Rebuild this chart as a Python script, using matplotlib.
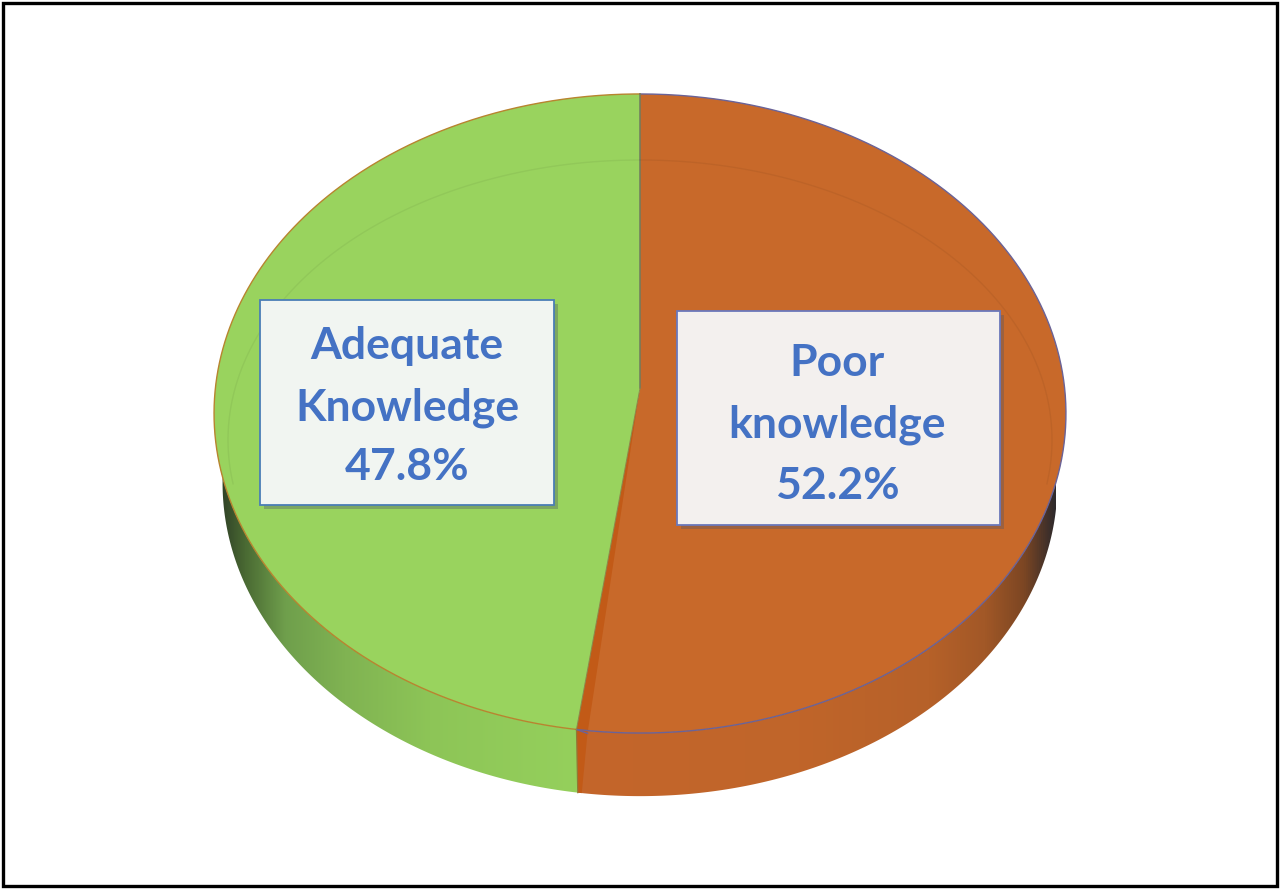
import numpy as np
import matplotlib
matplotlib.use('Agg')
import matplotlib.pyplot as plt
from matplotlib.colors import LinearSegmentedColormap
from matplotlib.patches import Polygon, Rectangle

# values (clockwise from the top)
categories = ['Poor\nknowledge', 'Adequate\nKnowledge']
shares = [52.2, 47.8]

top_colors = ['#c8692a', '#99d35e']
edge_colors = ['#6a6398', '#b8842f']

plt.rcParams['font.family'] = ['Lato', 'DejaVu Sans']

fig = plt.figure(figsize=(12.8, 8.91), dpi=100)
ax = fig.add_axes([0, 0, 1, 1])


# tilted disc: unit circle through a perspective projection
def disc(theta, dy=0.0, scale=1.0):
    u = np.sin(theta)
    v = -np.cos(theta)
    w = 1 - 0.0798 * v
    return 640 + scale * 424.6 * u / w, 388 + dy + scale * 317.5 * v / w


fractions = np.cumsum([0] + shares) / sum(shares)
angles = 2 * np.pi * fractions
DEPTH = 70
SCALE = 0.98

# side wall, shaded along x
wall_maps = [
    ([(577, '#c4662b'), (800, '#c0652a'), (930, '#b66129'), (985, '#a25827'),
      (1025, '#7c4623'), (1056, '#2f2a2c')]),
    ([(220, '#2f4026'), (245, '#4a6a33'), (285, '#6f9f4c'), (345, '#80b352'),
      (430, '#8dc557'), (577, '#95d05c')]),
]
for i in range(2):
    t = np.linspace(angles[i], angles[i + 1], 400)
    t = t[np.cos(t) < 0.5]
    x1, y1 = disc(t)
    x2, y2 = disc(t, DEPTH, SCALE)
    pts = np.column_stack([np.r_[x1, x2[::-1]], np.r_[y1, y2[::-1]]])
    poly = Polygon(pts, closed=True, fc='none', ec='none')
    ax.add_patch(poly)
    stops = wall_maps[i]
    lo, hi = stops[0][0], stops[-1][0]
    cmap = LinearSegmentedColormap.from_list(
        'wall', [((s[0] - lo) / (hi - lo), s[1]) for s in stops])
    grad = np.linspace(0, 1, 512).reshape(1, -1)
    im = ax.imshow(grad, cmap=cmap, extent=(lo, hi, 830, 400), aspect='auto', zorder=1)
    im.set_clip_path(poly)

# top face
apex = (640, 388)
for i in range(2):
    t = np.linspace(angles[i], angles[i + 1], 400)
    x, y = disc(t)
    ax.fill(np.r_[apex[0], x], np.r_[apex[1], y], color=top_colors[i], lw=0, zorder=2)
    ax.plot(x, y, color=edge_colors[i], lw=1.0, zorder=3)

# darker cut face beside the split
sx, sy = disc(np.array([angles[1]]))
sx, sy = sx[0], sy[0]
bx0, by0 = disc(np.array([angles[1]]), DEPTH, SCALE)
bx0, by0 = bx0[0], by0[0]
ax.fill([apex[0], sx, sx + 11], [apex[1], sy, sy + 4], color='#c25a17', lw=0, zorder=2.5)
ax.fill([sx, sx + 11, bx0 + 4, bx0], [sy, sy + 4, by0 + 0.5, by0], color='#c25a17', lw=0, zorder=2.5)
ax.plot([sx, bx0], [sy, by0], color='#8f7a35', lw=0.9, zorder=3)
ax.plot([sx, sx + 11], [sy, sy + 4], color=edge_colors[0], lw=1.0, zorder=3)
ax.plot([apex[0], apex[0]], [94, apex[1]], color='#707a5e', lw=1.1, zorder=3)
ax.plot([apex[0], sx], [apex[1], sy], color='#8a8a4a', lw=0.7, zorder=3)

# faint ring seen through the top face
t = np.linspace(-0.55 * np.pi, 0.55 * np.pi, 300)
ax.plot(640 + 412 * np.sin(t), 440 - 280 * np.cos(t), color='k', alpha=0.05, lw=1, zorder=3)

# label boxes
boxes = [(677, 311, 323, 214, '#f3f0ee', '#6a78bb', (837, 363, 425, 486)),
         (260, 300, 294, 205, '#f1f5f1', '#4a7eb6', (407, 346, 408, 467))]
for i in range(2):
    bx, by, bw, bh, fc, ec, ys = boxes[i]
    ax.add_patch(Rectangle((bx + 4, by + 4), bw, bh, fc='#4a5468', alpha=0.35, lw=0, zorder=4))
    ax.add_patch(Rectangle((bx, by), bw, bh, fc=fc, ec=ec, lw=1.3, zorder=5))
    lines = categories[i].split('\n') + ['%.1f%%' % shares[i]]
    for k in range(3):
        ax.text(ys[0], ys[k + 1], lines[k], color='#4472c4', fontsize=32, fontweight='bold',
                ha='center', va='center', zorder=6)

# outer border
ax.add_patch(Rectangle((3, 3), 1274, 883, fc='none', ec='black', lw=2.4, zorder=7))

ax.set_xlim(0, 1280)
ax.set_ylim(891, 0)
ax.axis('off')
fig.savefig('out.png', dpi=100, facecolor='white')
